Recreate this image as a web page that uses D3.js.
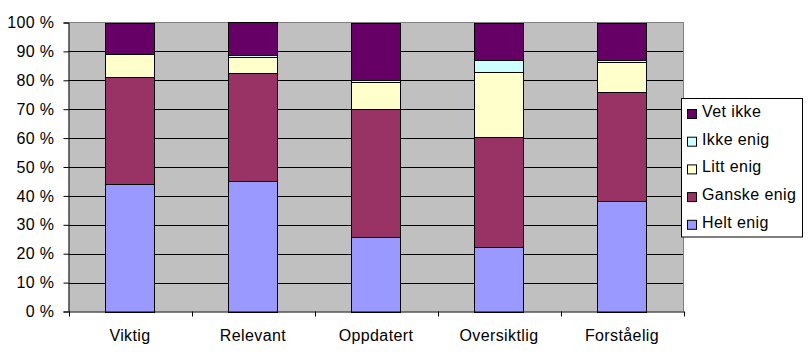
<!DOCTYPE html>
<html>
<head>
<meta charset="utf-8">
<script src="https://cdn.jsdelivr.net/npm/d3@7"></script>
<style>
  html, body { margin: 0; padding: 0; background: #fff; }
  svg { display: block; }
  text { font-family: Arial, "Liberation Sans", sans-serif; font-size: 16px; fill: #000; letter-spacing: 0.4px; }
</style>
</head>
<body>
<svg id="chart" width="810" height="357"></svg>
<script>
const categories = ["Viktig", "Relevant", "Oppdatert", "Oversiktlig", "Forståelig"];
const seriesNames = ["Helt enig", "Ganske enig", "Litt enig", "Ikke enig", "Vet ikke"];
const heltEnig   = [44.0, 45.0, 25.7, 22.2, 38.1];
const ganskeEnig = [37.0, 37.4, 44.2, 38.2, 37.7];
const littEnig   = [ 8.0,  5.8,  9.6, 22.3, 10.4];
const ikkeEnig   = [ 0.0,  0.7,  0.7,  4.2,  0.9];
const vetIkke    = [11.0, 11.1, 19.8, 13.1, 12.9];
const yTicks = [0, 10, 20, 30, 40, 50, 60, 70, 80, 90, 100];
const colors = ["#9999FF", "#993366", "#FFFFCC", "#CCFFFF", "#660066"];

const seriesValues = [heltEnig, ganskeEnig, littEnig, ikkeEnig, vetIkke];
const rows = categories.map((c, i) => {
  const r = { category: c };
  seriesNames.forEach((s, j) => { r[s] = seriesValues[j][i]; });
  return r;
});
const stacked = d3.stack().keys(seriesNames).offset(d3.stackOffsetExpand)(rows);

const svg = d3.select("#chart");
const mLeft = 68.5, mRight = 683.5, mTop = 22.5, mBottom = 311.5;

const x = d3.scaleBand().domain(categories).range([mLeft, mRight])
  .paddingInner(0.6).paddingOuter(0.3);
const y = d3.scaleLinear().domain([0, 1]).range([mBottom, mTop]);
const color = d3.scaleOrdinal().domain(seriesNames).range(colors);

// plot background
svg.append("rect").attr("x", mLeft).attr("y", mTop)
  .attr("width", mRight - mLeft).attr("height", mBottom - mTop)
  .attr("fill", "#C0C0C0");

// gridlines
svg.append("g").selectAll("line").data(yTicks.filter(t => t > 0 && t < 100)).join("line")
  .attr("x1", mLeft).attr("x2", mRight)
  .attr("y1", d => Math.round(y(d / 100)) + 0.5).attr("y2", d => Math.round(y(d / 100)) + 0.5)
  .attr("stroke", "#000").attr("stroke-width", 1);

// top and right border (grey)
svg.append("path")
  .attr("d", `M${mLeft},${mTop}H${mRight}V${mBottom}`)
  .attr("fill", "none").attr("stroke", "#808080").attr("stroke-width", 1);

// bars
svg.append("g").selectAll("g").data(stacked).join("g")
  .attr("fill", d => color(d.key))
  .selectAll("rect").data(d => d).join("rect")
  .attr("x", d => Math.round(x(d.data.category)) + 0.5)
  .attr("y", d => Math.round(y(d[1])) + 0.5)
  .attr("width", Math.round(x.bandwidth()))
  .attr("height", d => Math.max(0, Math.round(y(d[0])) - Math.round(y(d[1]))))
  .attr("stroke", "#000").attr("stroke-width", 1);

// y axis
const yAxis = d3.axisLeft(y).tickValues(yTicks.map(t => t / 100))
  .tickFormat(d => Math.round(d * 100) + " %").tickSize(5).tickPadding(9);
const gy = svg.append("g").attr("transform", `translate(${mLeft},0)`).call(yAxis);
gy.select(".domain").attr("stroke", "#000");
gy.selectAll(".tick line").attr("stroke", "#000");
gy.selectAll(".tick text").style("font-size", "16px").attr("fill", "#000")
  .style("font-family", "Arial, 'Liberation Sans', sans-serif");

// x axis
const xAxis = d3.axisBottom(x).tickSize(0).tickPadding(18);
const gx = svg.append("g").attr("transform", `translate(0,${mBottom})`).call(xAxis);
gx.select(".domain").attr("stroke", "#000");
gx.selectAll(".tick text").style("font-size", "16px").attr("fill", "#000")
  .style("font-family", "Arial, 'Liberation Sans', sans-serif");
// category boundary tick marks
const boundaries = d3.range(categories.length + 1).map(i => mLeft + i * (mRight - mLeft) / categories.length);
svg.append("g").selectAll("line").data(boundaries).join("line")
  .attr("x1", d => Math.round(d) + 0.5).attr("x2", d => Math.round(d) + 0.5)
  .attr("y1", mBottom).attr("y2", mBottom + 5)
  .attr("stroke", "#000");

// legend
const legend = svg.append("g");
legend.append("rect").attr("x", 681.5).attr("y", 98.5).attr("width", 121).attr("height", 138.5)
  .attr("fill", "#fff").attr("stroke", "#000");
const legendItems = seriesNames.slice().reverse();
const li = legend.selectAll("g.item").data(legendItems).join("g").attr("class", "item")
  .attr("transform", (d, i) => `translate(0,${114 + i * 27.7})`);
li.append("rect").attr("x", 687.5).attr("y", -4.5).attr("width", 9).attr("height", 9)
  .attr("fill", d => color(d)).attr("stroke", "#000");
li.append("text").attr("x", 702).attr("y", 3).text(d => d);
</script>
</body>
</html>
